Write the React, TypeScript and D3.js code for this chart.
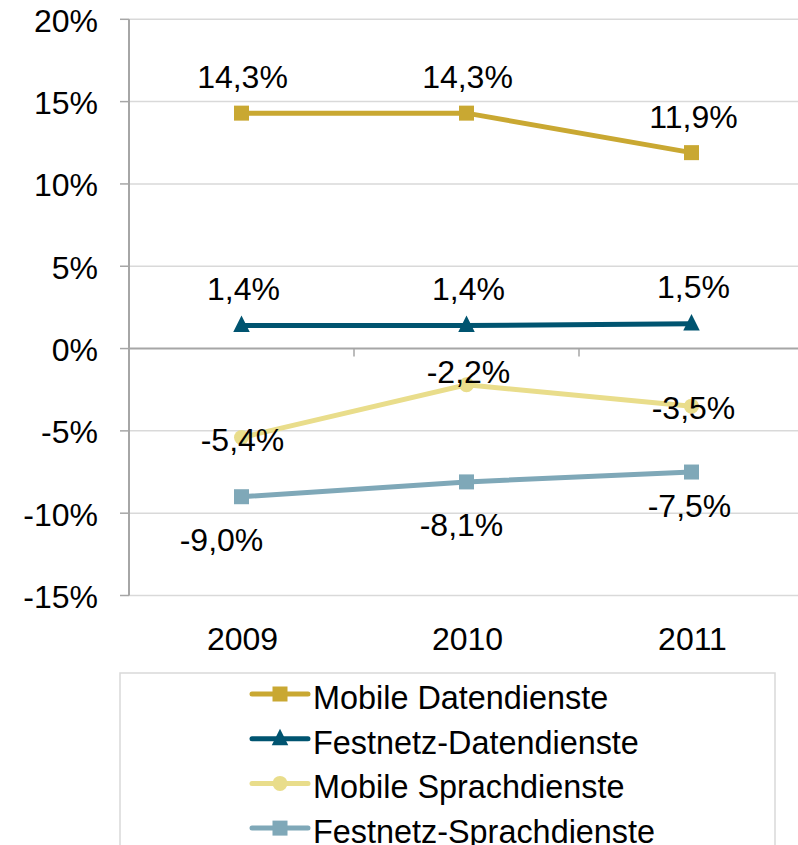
import React from "react";
import * as d3 from "d3";

const years = ["2009", "2010", "2011"];
const seriesNames = [
  "Mobile Datendienste",
  "Festnetz-Datendienste",
  "Mobile Sprachdienste",
  "Festnetz-Sprachdienste",
];
const mobileDaten = [14.3, 14.3, 11.9];
const festnetzDaten = [1.4, 1.4, 1.5];
const mobileSprach = [-5.4, -2.2, -3.5];
const festnetzSprach = [-9.0, -8.1, -7.5];
const yTicks = [-15, -10, -5, 0, 5, 10, 15, 20];

const seriesValues = [mobileDaten, festnetzDaten, mobileSprach, festnetzSprach];
const colors = ["#C9A832", "#005470", "#E9DD8B", "#7FA8B8"];
const markers = ["square", "triangle", "circle", "square"];
// label offsets (dx, dy of baseline relative to marker) per series / point
const labelOffsets = [
  [[1, -25], [1, -25], [2, -25]],
  [[2, -26], [2, -26], [2, -26]],
  [[1, 14], [2, -2], [2, 13]],
  [[-20, 54], [-5, 54], [-2, 45]],
];

const fmt = (v: number) => v.toFixed(1).replace(".", ",") + "%";

function Marker({ type, x, y, color, size }: any) {
  if (type === "square")
    return <rect x={x - size / 2} y={y - size / 2} width={size} height={size} fill={color} />;
  if (type === "triangle") {
    const s = size * 1.1;
    const p = `${x},${y - s * 0.6} ${x + s / 2},${y + s * 0.4} ${x - s / 2},${y + s * 0.4}`;
    return <polygon points={p} fill={color} />;
  }
  return <circle cx={x} cy={y} r={size / 2} fill={color} />;
}

export default function App() {
  const W = 798;
  const H = 845;
  const FS = 32;
  const x = d3.scaleBand<string>().domain(years).range([129, 804]).padding(0);
  const y = d3.scaleLinear().domain([-15, 20]).range([595.5, 19.3]);
  const cx = (yr: string) => (x(yr) as number) + x.bandwidth() / 2;
  const line = d3
    .line<number>()
    .x((_, i) => cx(years[i]))
    .y((d) => y(d));
  const font = "'Liberation Sans', Arial, sans-serif";

  return (
    <svg width={W} height={H} style={{ position: "absolute", left: 0, top: 0, background: "#fff" }}>
      <rect width={W} height={H} fill="#fff" />
      {/* gridlines */}
      {yTicks.filter((t) => t !== 0).map((t) => (
        <line key={t} x1={129} x2={W} y1={y(t)} y2={y(t)} stroke="#D9D9D9" strokeWidth={1.5} />
      ))}
      {/* y ticks */}
      {yTicks.map((t) => (
        <line key={"tk" + t} x1={120} x2={129} y1={y(t)} y2={y(t)} stroke="#A6A6A6" strokeWidth={1.5} />
      ))}
      {/* y axis */}
      <line x1={129} x2={129} y1={y(20)} y2={y(-15)} stroke="#A6A6A6" strokeWidth={2} />
      {/* zero axis */}
      <line x1={129} x2={W} y1={y(0)} y2={y(0)} stroke="#A6A6A6" strokeWidth={2} />
      {years.slice(1).map((yr) => (
        <line key={"ct" + yr} x1={x(yr) as number} x2={x(yr) as number} y1={y(0)} y2={y(0) + 8} stroke="#A6A6A6" strokeWidth={1.5} />
      ))}
      {/* y labels */}
      {yTicks.map((t) => (
        <text key={"yl" + t} x={98} y={y(t) + 12.5} textAnchor="end" fontFamily={font} fontSize={FS} fill="#000">
          {t + "%"}
        </text>
      ))}
      {/* x labels */}
      {years.map((yr) => (
        <text key={"xl" + yr} x={cx(yr) + 1} y={650} textAnchor="middle" fontFamily={font} fontSize={FS} fill="#000">
          {yr}
        </text>
      ))}
      {/* series */}
      {seriesValues.map((vals, si) => (
        <g key={"s" + si}>
          <path d={line(vals) as string} fill="none" stroke={colors[si]} strokeWidth={5} />
          {vals.map((v, i) => (
            <Marker key={i} type={markers[si]} x={cx(years[i])} y={y(v)} color={colors[si]} size={15} />
          ))}
          {vals.map((v, i) => (
            <text
              key={"l" + i}
              x={cx(years[i]) + labelOffsets[si][i][0]}
              y={y(v) + labelOffsets[si][i][1]}
              textAnchor="middle"
              fontFamily={font}
              fontSize={FS}
              fill="#000"
            >
              {fmt(v)}
            </text>
          ))}
        </g>
      ))}
      {/* legend */}
      <rect x={120} y={673} width={655} height={200} fill="#fff" stroke="#D9D9D9" strokeWidth={1.5} />
      {seriesNames.map((n, i) => {
        const ly = 694 + i * 44.7;
        return (
          <g key={"lg" + i}>
            <line x1={252} x2={308} y1={ly} y2={ly} stroke={colors[i]} strokeWidth={5} strokeLinecap="round" />
            <Marker type={markers[i]} x={280} y={ly} color={colors[i]} size={15} />
            <text x={313} y={ly + 15} fontFamily={font} fontSize={32.4} fill="#000">
              {n}
            </text>
          </g>
        );
      })}
    </svg>
  );
}
